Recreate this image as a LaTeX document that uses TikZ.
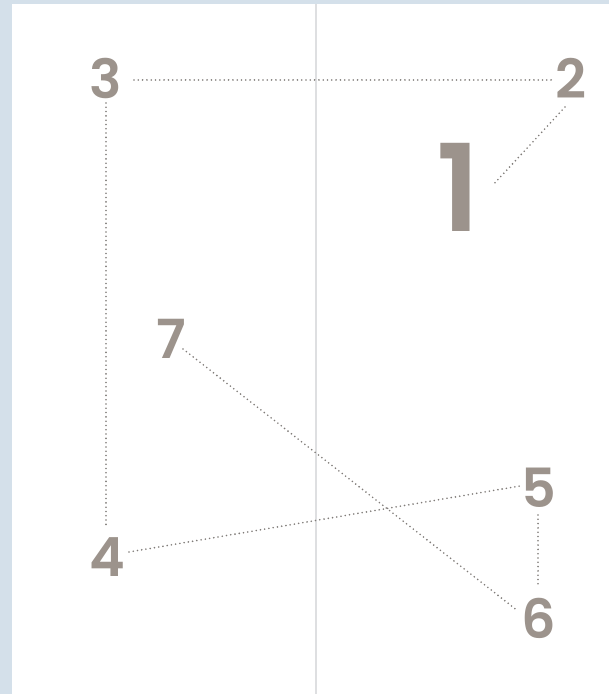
\documentclass[tikz,border=0pt]{standalone}
\usepackage{fontspec}
\newfontfamily\digitfont{Poppins SemiBold}
\definecolor{digitcol}{RGB}{156,147,140}
\definecolor{dotcol}{RGB}{128,124,121}
\definecolor{bgblue}{RGB}{212,224,234}
\definecolor{rulecol}{RGB}{222,223,225}
\begin{document}
\begin{tikzpicture}[x=1pt,y=1pt,
  num/.style={inner sep=0pt,outer sep=0pt,text=digitcol,font=\digitfont\fontsize{54}{54}\selectfont},
  bignum/.style={num,font=\digitfont\fontsize{121}{121}\selectfont},
  dots/.style={draw=dotcol,line width=1.8pt,line cap=round,dash pattern=on 0pt off 4.3pt}]
\useasboundingbox (0,0) rectangle (609,694);
\fill[bgblue] (0,0) rectangle (609,694);
\fill[white] (12,0) rectangle (609,690);
\draw[rulecol,line width=2.5pt] (316,0) -- (316,690);
\node[num] (n3) at (106,616) {3};
\node[num] (n2) at (571,616) {2};
\node[bignum] (n1) at (458,507) {1};
\node[num] (n4) at (107,137) {4};
\node[num] (n5) at (539,206) {5};
\node[num] (n6) at (539,76) {6};
\node[num] (n7) at (171,355) {7};
\draw[dots] ([shift={(28,-2)}]n3.center) -- ([shift={(-18,-2)}]n2.center);
\draw[dots] ([shift={(0,-25)}]n3.center) -- ([shift={(-1,30)}]n4.center);
\draw[dots] ([shift={(-6,-29)}]n2.center) -- ([shift={(35,2)}]n1.center);
\draw[dots] ([shift={(22,5)}]n4.center) -- ([shift={(-19,2)}]n5.center);
\draw[dots] ([shift={(-1,-27)}]n5.center) -- ([shift={(-1,30)}]n6.center);
\draw[dots] ([shift={(12,-10)}]n7.center) -- ([shift={(-21,7)}]n6.center);
\end{tikzpicture}
\end{document}
